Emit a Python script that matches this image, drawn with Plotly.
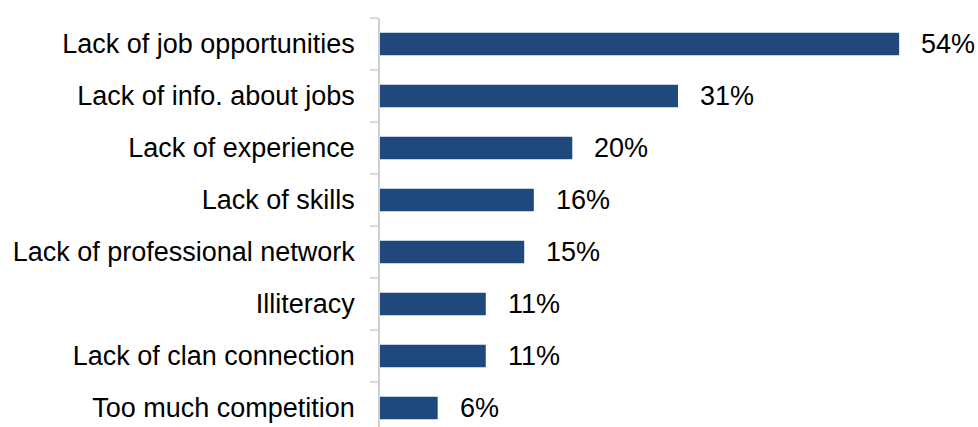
import plotly.graph_objects as go

categories = [
    "Lack of job opportunities",
    "Lack of info. about jobs",
    "Lack of experience",
    "Lack of skills",
    "Lack of professional network",
    "Illiteracy",
    "Lack of clan connection",
    "Too much competition",
]
shares = [54, 31, 20, 16, 15, 11, 11, 6]
labels = [f"{v}%" for v in shares]

BAR = "#1F497D"
FONT = "Liberation Sans, Arial, Helvetica, sans-serif"
FSIZE = 27

fig = go.Figure(
    go.Bar(
        x=shares,
        y=categories,
        orientation="h",
        marker=dict(color=BAR, line=dict(width=0)),
        width=0.43,
        hoverinfo="skip",
    )
)

# value labels to the right of each bar
for cat, val, lab in zip(categories, shares, labels):
    fig.add_annotation(
        x=val, y=cat, text=lab, showarrow=False,
        xanchor="left", yanchor="middle", xshift=20,
        font=dict(family=FONT, size=FSIZE, color="#000000"),
    )

fig.update_layout(
    width=978, height=427,
    margin=dict(l=380, r=0, t=18, b=0),
    paper_bgcolor="white", plot_bgcolor="white",
    showlegend=False,
    font=dict(family=FONT, size=FSIZE, color="#000000"),
    xaxis=dict(range=[0, 62.2], visible=False, fixedrange=True),
    yaxis=dict(
        type="category",
        range=[7.365, -0.5],
        showline=True, linecolor="#CFCFCF", linewidth=1.5,
        ticks="outside", tickson="boundaries", ticklen=8,
        tickcolor="#D9D9D9", tickwidth=1.5,
        ticklabelstandoff=18,
        showgrid=False, zeroline=False,
        tickfont=dict(family=FONT, size=FSIZE, color="#000000"),
    ),
)

fig.write_html("out.html")
